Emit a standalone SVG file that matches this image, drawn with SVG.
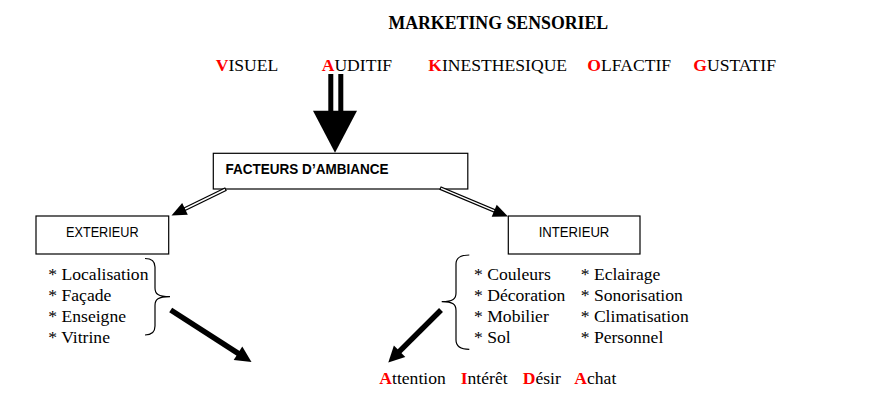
<svg xmlns="http://www.w3.org/2000/svg" width="874" height="410" viewBox="0 0 874 410">
<style>
.serif{font-family:"Liberation Serif","Times New Roman",serif;font-size:17.6px;fill:#000}
.title{font-family:"Liberation Serif","Times New Roman",serif;font-size:17.8px;font-weight:bold;fill:#000}
.sans{font-family:"Liberation Sans",Arial,sans-serif;font-size:15px;fill:#000}
.r{fill:#ff0000;font-weight:bold}
.box{fill:#fff;stroke:#000;stroke-width:1.2}
.brace{fill:none;stroke:#000;stroke-width:1.2}
.dbl-o{fill:none;stroke:#000;stroke-width:4}
.dbl-i{fill:none;stroke:#fff;stroke-width:1.4}
.thick{fill:none;stroke:#000;stroke-width:5.5}
.head{fill:#000}
</style>
<rect width="874" height="410" fill="#fff"/>
<text class="title" x="498.3" y="29" text-anchor="middle">MARKETING SENSORIEL</text>
<g id="senses">
<text class="serif" x="215.7" y="71"><tspan class="r">V</tspan>ISUEL</text>
<text class="serif" x="321.7" y="71"><tspan class="r">A</tspan>UDITIF</text>
<text class="serif" x="428.3" y="71"><tspan class="r">K</tspan>INESTHESIQUE</text>
<text class="serif" x="587.3" y="71"><tspan class="r">O</tspan>LFACTIF</text>
<text class="serif" x="693.3" y="71"><tspan class="r">G</tspan>USTATIF</text>
</g>
<g id="facteurs">
<rect class="box" x="213.3" y="153.3" width="254.5" height="35.7"/>
<text class="sans" x="225.5" y="174" font-weight="bold" textLength="163" lengthAdjust="spacingAndGlyphs">FACTEURS D’AMBIANCE</text>
</g>
<g id="exterieur">
<rect class="box" x="36" y="216" width="132.7" height="38"/>
<text class="sans" x="102.3" y="237.3" text-anchor="middle" textLength="72.7" lengthAdjust="spacingAndGlyphs">EXTERIEUR</text>
</g>
<g id="interieur">
<rect class="box" x="508.3" y="216" width="131.7" height="38"/>
<text class="sans" x="574" y="237.3" text-anchor="middle" textLength="70.7" lengthAdjust="spacingAndGlyphs">INTERIEUR</text>
</g>
<g id="exterieur-list">
<text class="serif" x="48.3" y="280">* Localisation</text>
<text class="serif" x="48.3" y="300.7">* Façade</text>
<text class="serif" x="48.3" y="321.7">* Enseigne</text>
<text class="serif" x="48.3" y="342.7">* Vitrine</text>
<path class="brace" d="M145,258.5 C152,258.5 155,261 155,267 L155,288 C155,294 158,296.7 170,296.7 C158,296.7 155,299.5 155,305.5 L155,326 C155,332 152,335 145,335"/>
</g>
<g id="interieur-list">
<text class="serif" x="474" y="280">* Couleurs</text>
<text class="serif" x="474" y="300.7">* Décoration</text>
<text class="serif" x="474" y="321.7">* Mobilier</text>
<text class="serif" x="474" y="342.7">* Sol</text>
<text class="serif" x="580.7" y="280">* Eclairage</text>
<text class="serif" x="580.7" y="300.7">* Sonorisation</text>
<text class="serif" x="580.7" y="321.7">* Climatisation</text>
<text class="serif" x="580.7" y="342.7">* Personnel</text>
<path class="brace" d="M469.3,255 C460,255 456,258 456,264 L456,293 C456,299 453,301.7 441.7,301.7 C453,301.7 456,304.5 456,310.5 L456,340 C456,346 460,349.3 469.3,349.3"/>
</g>
<g id="aida">
<text class="serif" x="379.3" y="384"><tspan class="r">A</tspan>ttention</text>
<text class="serif" x="460.7" y="384"><tspan class="r">I</tspan>ntérêt</text>
<text class="serif" x="522.7" y="384"><tspan class="r">D</tspan>ésir</text>
<text class="serif" x="574.3" y="384"><tspan class="r">A</tspan>chat</text>
</g>
<g id="connectors">
<rect class="head" x="328.3" y="74" width="5" height="38"/>
<rect class="head" x="338.3" y="74" width="5" height="38"/>
<polygon class="head" points="313,110.7 357,110.7 335,152.7"/>
<path class="dbl-o" d="M226,189 L183.5,209.7"/>
<path class="dbl-i" d="M225,189.5 L185,209"/>
<polygon class="head" points="171.5,215.5 187.8,214.8 182.2,203.1"/>
<path class="dbl-o" d="M440,188 L496,211.5"/>
<path class="dbl-i" d="M441,188.4 L494.5,210.9"/>
<polygon class="head" points="508,216.5 491.7,216.7 496.7,204.7"/>
<path class="thick" d="M170.7,310 L239.7,354.4"/>
<polygon class="head" points="251.5,362 233.7,360 242.3,346.6"/>
<path class="thick" d="M441,310 L398.2,352.6"/>
<polygon class="head" points="388.3,362.5 405.3,356.9 393.9,345.5"/>
</g>
</svg>
